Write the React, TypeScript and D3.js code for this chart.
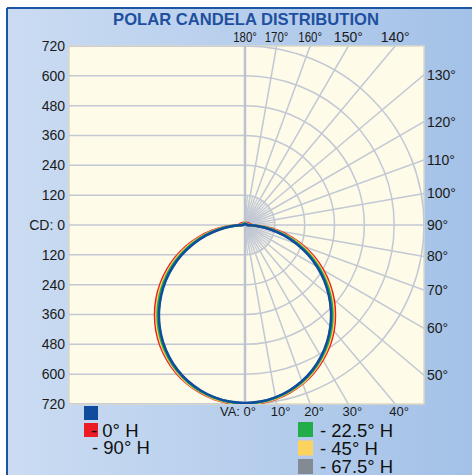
import React from "react";
import * as d3 from "d3";

// vertical angles (deg from nadir) and candela values per horizontal plane
const angles = [0, 5, 10, 15, 20, 25, 30, 35, 40, 45, 50, 55, 60, 65, 70, 75, 80, 85, 90,
  95, 100, 105, 110, 115, 120, 125, 130, 135, 140, 145, 150, 155, 160, 165, 170, 175, 180];

const cd0 = [722, 719, 711, 697, 679, 655, 626, 593, 555, 512, 466, 416, 363, 308, 252, 194, 134, 78, 26,
  22, 20, 18, 17, 16, 15, 14, 13, 12, 11, 10, 10, 9, 9, 8, 8, 8, 8];
const cd225 = [718, 715, 706, 692, 672, 647, 616, 581, 541, 497, 449, 398, 344, 288, 231, 173, 114, 60, 14,
  12, 11, 10, 9, 9, 8, 8, 7, 7, 6, 6, 6, 5, 5, 5, 5, 4, 4];
const cd45 = [720, 717, 709, 694, 676, 651, 621, 587, 548, 504, 457, 407, 353, 298, 241, 183, 124, 70, 18,
  15, 13, 12, 11, 10, 9, 9, 8, 8, 7, 7, 6, 6, 6, 5, 5, 5, 5];
const cd675 = [717, 714, 705, 690, 670, 644, 613, 577, 536, 491, 443, 392, 337, 281, 223, 165, 107, 51, 10,
  9, 8, 8, 7, 7, 6, 6, 6, 5, 5, 5, 4, 4, 4, 4, 3, 3, 3];
const cd90 = [716, 713, 704, 689, 669, 643, 611, 575, 534, 489, 440, 389, 334, 278, 220, 162, 104, 49, 8,
  7, 7, 6, 6, 6, 5, 5, 5, 5, 4, 4, 4, 4, 3, 3, 3, 3, 3];

const cdTicks = [0, 120, 240, 360, 480, 600, 720];
const gridAngles = [0, 10, 20, 30, 40, 50, 60, 70, 80, 90, 100, 110, 120, 130, 140, 150, 160, 170, 180];
const fineAngles = [5, 15, 25, 35, 45, 55, 65, 75, 85, 95, 105, 115, 125, 135, 145, 155, 165, 175];

// drawn bottom to top
const series = [
  { name: "67.5° H", values: cd675, color: "#838a93" },
  { name: "0° H", values: cd0, color: "#ec1c24" },
  { name: "45° H", values: cd45, color: "#fcd35e" },
  { name: "22.5° H", values: cd225, color: "#23ad4a" },
  { name: "90° H", values: cd90, color: "#104c9e" },
];

const W = 472, H = 475;
const cx = 245, cy = 225, R = 179;
const x0 = 69, x1 = cx + R, y0 = cy - R, y1 = cy + R;
const font = "'Liberation Sans', Arial, Helvetica, sans-serif";
const gridColor = "#c2c8d4";

const r = d3.scaleLinear().domain([0, 720]).range([0, R]);
const rad = (deg: number) => (deg * Math.PI) / 180;

// distance from centre to plot edge along a vertical angle (0 = down, 180 = up)
function hitLen(deg: number) {
  const dx = Math.sin(rad(deg)), dy = Math.cos(rad(deg));
  let t = Infinity;
  if (dx > 1e-6) t = Math.min(t, (x1 - cx) / dx);
  if (dy > 1e-6) t = Math.min(t, (y1 - cy) / dy);
  if (dy < -1e-6) t = Math.min(t, (y0 - cy) / dy);
  return t;
}
const ptAt = (deg: number, len: number): [number, number] => [
  cx + len * Math.sin(rad(deg)),
  cy + len * Math.cos(rad(deg)),
];

// closed curve, mirrored to the left half
function curvePath(values: number[]) {
  const pts: [number, number][] = [];
  angles.forEach((a, i) => pts.push([Math.PI - rad(a), r(values[i])]));
  for (let i = angles.length - 2; i > 0; i--) pts.push([Math.PI + rad(angles[i]), r(values[i])]);
  const line = d3.lineRadial<[number, number]>()
    .angle(d => d[0])
    .radius(d => d[1])
    .curve(d3.curveCatmullRomClosed);
  return line(pts) || "";
}

export default function App() {
  const arc = d3.arc();
  return (
    <svg width={W} height={H} style={{ position: "absolute", left: 0, top: 0, fontFamily: font }}>
      <defs>
        <linearGradient id="bg" x1="0" x2="1" y1="0" y2="0">
          <stop offset="0" stopColor="#cbdcf2" />
          <stop offset="1" stopColor="#a3c1e7" />
        </linearGradient>
        <clipPath id="plotClip">
          <rect x={x0} y={y0} width={x1 - x0} height={y1 - y0} />
        </clipPath>
      </defs>
      <rect x={0} y={0} width={W} height={H} fill="#fff" />
      <rect x={7} y={8} width={W} height={H} fill="url(#bg)" />
      <line x1={7} y1={8} x2={W} y2={8} stroke="#1d55a6" strokeWidth={2} />
      <line x1={7} y1={8} x2={7} y2={H} stroke="#1d55a6" strokeWidth={2} />

      <text x={246} y={25} textAnchor="middle" fontSize={16.6} fontWeight="bold" fill="#1f50a0">
        POLAR CANDELA DISTRIBUTION
      </text>

      <rect x={x0} y={y0} width={x1 - x0} height={y1 - y0} fill="#fefbe9" stroke="#dcd8c4" strokeWidth={1.5} />

      <g clipPath="url(#plotClip)" stroke={gridColor} fill="none" strokeWidth={1.5}>
        {cdTicks.filter(v => v > 0).map(v => (
          <g key={"h" + v}>
            <line x1={x0} x2={cx} y1={cy - r(v)} y2={cy - r(v)} />
            <line x1={x0} x2={cx} y1={cy + r(v)} y2={cy + r(v)} />
            <path transform={`translate(${cx},${cy})`}
              d={arc({ innerRadius: r(v), outerRadius: r(v), startAngle: 0, endAngle: Math.PI }) || ""} />
          </g>
        ))}
        {fineAngles.map(a => {
          const [px, py] = ptAt(a, r(120));
          return <line key={"f" + a} x1={cx} y1={cy} x2={px} y2={py} strokeWidth={1.2} />;
        })}
        {gridAngles.filter(a => a > 0 && a < 180).map(a => {
          const [px, py] = ptAt(a, hitLen(a));
          return <line key={"g" + a} x1={cx} y1={cy} x2={px} y2={py} />;
        })}
        <line x1={x0} x2={cx} y1={cy} y2={cy} />
        <line x1={cx} x2={cx} y1={y0} y2={y1} strokeWidth={2.5} stroke="#bcc2cf" />
      </g>

      <g clipPath="url(#plotClip)">
        <g transform={`translate(${cx},${cy})`} fill="none" strokeWidth={2.5}>
          {series.map(s => (
            <path key={s.name} d={curvePath(s.values)} stroke={s.color} />
          ))}
        </g>
      </g>

      {/* left candela labels */}
      <g fontSize={14} fill="#1a1a1a" textAnchor="end">
        {cdTicks.map(v => (
          <React.Fragment key={"l" + v}>
            <text x={65} y={cy - r(v)} dy="0.35em">{v === 0 ? "CD: 0" : v}</text>
            {v > 0 && <text x={65} y={cy + r(v)} dy="0.35em">{v}</text>}
          </React.Fragment>
        ))}
      </g>

      {/* angle labels */}
      <g fill="#1a1a1a">
        {gridAngles.map(a => {
          const [px, py] = ptAt(a, hitLen(a));
          if (a >= 140) {
            const sx = a >= 160 ? 0.82 : 1;
            return (
              <text key={"a" + a} transform={`translate(${px},42) scale(${sx},1)`} fontSize={14}
                textAnchor="middle">{a}°</text>
            );
          }
          if (a >= 50) {
            return <text key={"a" + a} x={427} y={py} dy="0.35em" fontSize={14}>{a}°</text>;
          }
          if (a === 0) {
            return <text key={"a" + a} x={256} y={416} fontSize={13} textAnchor="end">VA: 0°</text>;
          }
          return <text key={"a" + a} x={px + 4} y={416} fontSize={13} textAnchor="middle">{a}°</text>;
        })}
      </g>

      {/* legend */}
      <g fontSize={18.5} fill="#111">
        <rect x={84} y={406} width={14} height={14} fill={series[4].color} />
        <rect x={84} y={423} width={14} height={14} fill={series[1].color} />
        <text x={91} y={437}>- {series[1].name}</text>
        <text x={92} y={454}>- {series[4].name}</text>
        {[series[3], series[2], series[0]].map((s, i) => (
          <g key={"lg" + s.name}>
            <rect x={298} y={422 + i * 18.5} width={15} height={15} fill={s.color} />
            <text x={320} y={437 + i * 18}>- {s.name}</text>
          </g>
        ))}
      </g>
    </svg>
  );
}
